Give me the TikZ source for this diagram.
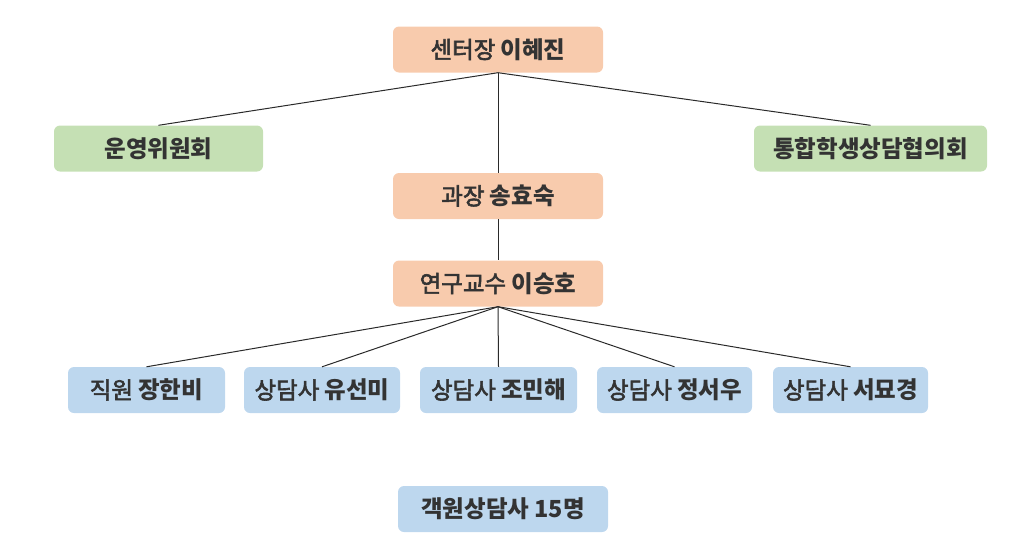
\documentclass[tikz,border=0pt]{standalone}
\usepackage{fontspec}
\setmainfont{Noto Sans CJK KR}
\newfontfamily\medf{Noto Sans CJK KR}[FakeBold=2.5]
\definecolor{orangebox}{HTML}{F8CBAD}
\definecolor{greenbox}{HTML}{C5E0B4}
\definecolor{bluebox}{HTML}{BDD7EE}
\definecolor{txt}{HTML}{333333}
\definecolor{linec}{HTML}{2A2A2A}
\tikzset{
  box/.style={rounded corners=6pt, inner sep=0pt, minimum height=46pt, text=txt, font=\fontsize{23.5}{26}\selectfont},
  obox/.style={box, fill=orangebox, minimum width=210pt},
  gbox/.style={box, fill=greenbox},
  bbox/.style={box, fill=bluebox, minimum width=156pt},
  conn/.style={draw=linec, line width=1pt}
}
\begin{document}
\begin{tikzpicture}[x=1pt,y=-1pt]
\useasboundingbox (0,0) rectangle (1024,533);
\node[obox] (head) at (498,49.5) {{\medf 센터장} \textbf{이혜진}};
\node[gbox, minimum width=209pt] (unyoung) at (158.5,148.5) {\textbf{운영위원회}};
\node[gbox, minimum width=233pt] (tonghap) at (870.5,148.5) {\textbf{통합학생상담협의회}};
\node[obox] (gwajang) at (498,196) {{\medf 과장} \textbf{송효숙}};
\node[obox] (prof) at (498,283.5) {{\medf 연구교수} \textbf{이승호}};
\node[bbox, minimum width=157pt] (s1) at (146.5,390) {{\medf 직원} \textbf{장한비}};
\node[bbox] (s2) at (322,390) {{\medf 상담사} \textbf{유선미}};
\node[bbox, minimum width=157pt] (s3) at (498.5,390) {{\medf 상담사} \textbf{조민해}};
\node[bbox, minimum width=155pt] (s4) at (674.5,390) {{\medf 상담사} \textbf{정서우}};
\node[bbox, minimum width=155pt] (s5) at (850.5,390) {{\medf 상담사} \textbf{서묘경}};
\node[bbox, minimum width=210pt] (guest) at (503,509) {\textbf{객원상담사 15명}};
\draw[conn] (head.south) -- (unyoung.north);
\draw[conn] (head.south) -- (tonghap.north);
\draw[conn] (head.south) -- (gwajang.north);
\draw[conn] (gwajang.south) -- (prof.north);
\foreach \s in {s1,s2,s3,s4,s5} \draw[conn] (prof.south) -- (\s.north);
\end{tikzpicture}
\end{document}
